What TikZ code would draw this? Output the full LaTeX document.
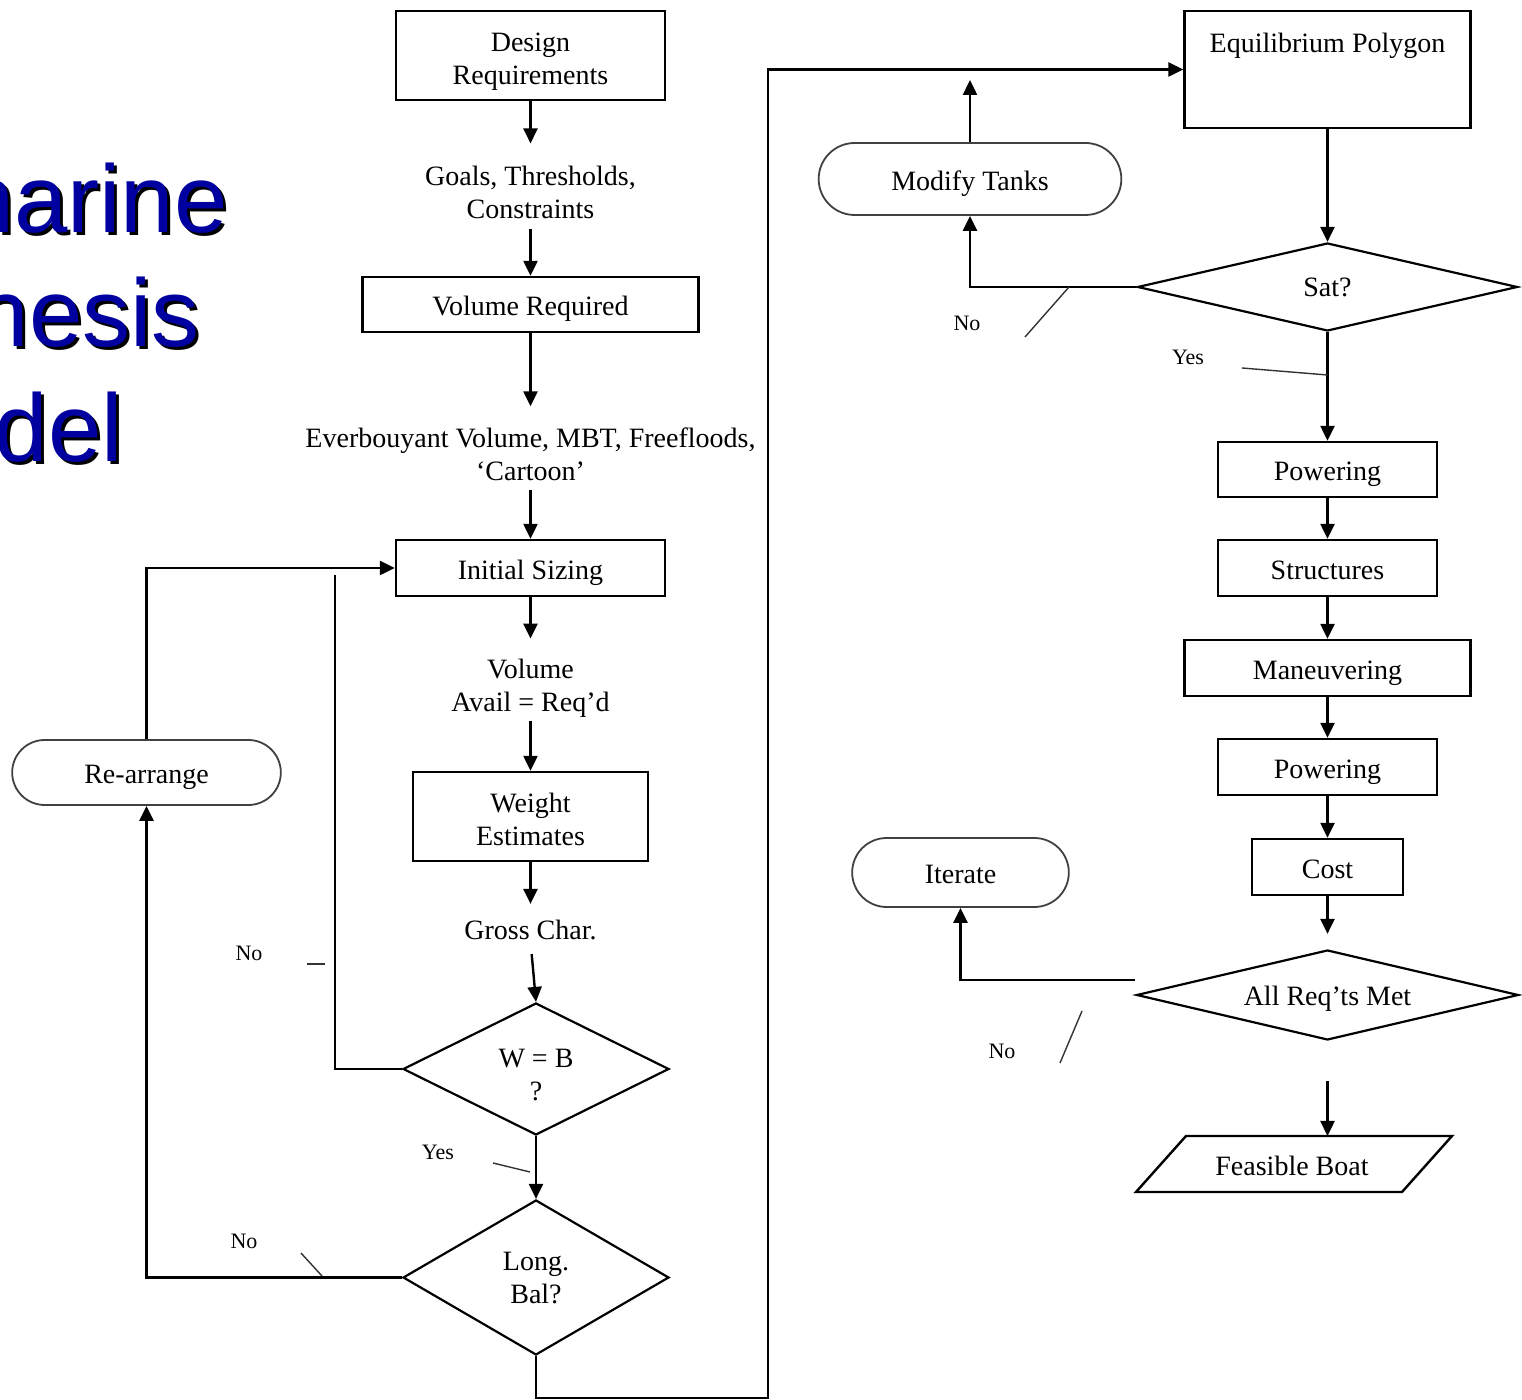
\documentclass[tikz,border=0pt]{standalone}
\usepackage{fontspec}
\setmainfont{Liberation Serif}
\newfontfamily\titlefont{Liberation Sans}
\usetikzlibrary{shapes.geometric,shapes.misc,arrows.meta}

\definecolor{titleblue}{RGB}{0,0,160}
\newcommand{\flowfont}{\fontsize{14}{16.5}\selectfont}
\newcommand{\tagfont}{\fontsize{11}{13}\selectfont}

\tikzset{every picture/.style={line width=1.2pt}}
\tikzset{
  procbox/.style={draw, rectangle, align=center, inner sep=2pt, text height=11.5pt, text depth=0pt, font=\flowfont},
  twoline/.style={text height=30pt, text depth=0.5pt},
  decide/.style={draw, diamond, align=center, inner sep=1pt, line width=1.1pt, font=\flowfont},
  termbox/.style={draw=black!75, rounded rectangle, line width=0.9pt, align=center, text height=11.5pt, text depth=0pt, font=\flowfont},
  flowtext/.style={align=center, inner sep=0pt, font=\flowfont},
  tagtext/.style={inner sep=0pt, font=\tagfont},
  flowarrow/.style={-{Triangle[length=7.5pt,width=7pt]}},
  tickline/.style={line width=0.7pt, black!80},
  titletext/.style={inner sep=0pt, anchor=base east, font=\titlefont\fontsize{48}{58}\selectfont}
}

\begin{document}
\begin{tikzpicture}[x=0.5pt,y=0.5pt,yscale=-1,xscale=1]
\useasboundingbox (0,0) rectangle (1522,1400);
\clip (0,0) rectangle (1522,1400);

% Title, cut off at the left edge
\node [titletext, black] (subshadow) at (232,236) {Submarine};
\node [titletext, titleblue] (subword) at (229,233) {Submarine};
\node [titletext, black] (synshadow) at (204,350) {Synthesis};
\node [titletext, titleblue] (synword) at (201,347) {Synthesis};
\node [titletext, black] (modshadow) at (127,465) {Model};
\node [titletext, titleblue] (modword) at (124,462) {Model};

% Left column
\node [procbox, twoline, minimum width=134.5pt, minimum height=44.5pt] (req) at (530.5,55.5) {Design\\Requirements};
\node [flowtext] (goals) at (530.5,192) {Goals, Thresholds,\\Constraints};
\node [procbox, minimum width=168pt, minimum height=27.5pt] (volreq) at (530.5,304.5) {Volume Required};
\node [flowtext] (ever) at (530.5,454) {Everbouyant Volume, MBT, Freefloods,\\`Cartoon'};
\node [procbox, minimum width=134.5pt, minimum height=28pt] (init) at (530.5,568) {Initial Sizing};
\node [flowtext] (volav) at (530.5,688) {Volume\\Avail = Req'd};
\node [procbox, twoline, minimum width=117.5pt, minimum height=44.5pt] (weight) at (530.5,816.5) {Weight\\Estimates};
\node [flowtext] (gross) at (530.5,930) {Gross Char.};
\node [decide, aspect=2, text height=32.5pt, text depth=0.5pt, minimum width=133pt, minimum height=66pt] (wb) at (536,1069) {W = B\\?};
\node [decide, aspect=1.7, text height=26pt, text depth=0.5pt, minimum width=133pt, minimum height=77.5pt] (bal) at (536,1277.5) {Long.\\Bal?};
\node [termbox, minimum width=141pt, minimum height=32.5pt] (rearr) at (146.5,772.5) {Re-arrange};

% Right column
\node [procbox, minimum width=143pt, minimum height=58.5pt] (equil) at (1327.5,69.5) {};
\node [flowtext] (equiltxt) at (1327.5,46) {Equilibrium Polygon};
\node [decide, aspect=4.3, minimum width=190pt, minimum height=44pt] (sat) at (1327.5,287) {Sat?};
\node [termbox, minimum width=158pt, minimum height=36pt] (modify) at (970,179) {Modify Tanks};
\node [procbox, minimum width=109.5pt, minimum height=27.5pt] (powa) at (1327.5,469.5) {Powering};
\node [procbox, minimum width=109.5pt, minimum height=28pt] (struct) at (1327.5,568) {Structures};
\node [procbox, minimum width=143pt, minimum height=28pt] (maneu) at (1327.5,668) {Maneuvering};
\node [procbox, minimum width=109.5pt, minimum height=28pt] (powb) at (1327.5,767) {Powering};
\node [procbox, minimum width=75.5pt, minimum height=28pt] (cost) at (1327.5,867) {Cost};
\node [decide, aspect=4.2, text height=11pt, text depth=0pt, minimum width=191pt, minimum height=45pt] (allreq) at (1327.5,995) {All Req'ts Met};
\node [termbox, minimum width=115pt, minimum height=34.5pt] (iterate) at (960.5,872.5) {Iterate};
\draw (1136,1192) -- (1186,1136) -- (1452,1136) -- (1402,1192) -- cycle;
\node [flowtext] (boat) at (1292,1166) {Feasible Boat};

% Branch labels
\node [tagtext] (nowb) at (249,953) {No};
\node [tagtext] (nobal) at (244,1241) {No};
\node [tagtext] (yeswb) at (438,1152) {Yes};
\node [tagtext] (nosat) at (967,323) {No};
\node [tagtext] (yessat) at (1188,357) {Yes};
\node [tagtext] (noall) at (1002,1051) {No};

\coordinate (wbnoend) at (335,575);
\coordinate (loopcorner) at (768,1398);
\coordinate (tankup) at (970,80);
\coordinate (boattop) at (1327.5,1136);

% Connectors
\draw [flowarrow, shorten >=10.5pt] (req.south) -- (goals.north);
\draw [flowarrow, shorten <=4.5pt] (goals.south) -- (volreq.north);
\draw [flowarrow, shorten >=10pt] (volreq.south) -- (ever.north);
\draw [flowarrow, shorten <=4pt] (ever.south) -- (init.north);
\draw [flowarrow, shorten >=9.5pt] (init.south) -- (volav.north);
\draw [flowarrow, shorten <=1.5pt] (volav.south) -- (weight.north);
\draw [flowarrow, shorten >=7.5pt] (weight.south) -- (gross.north);
\draw [flowarrow, shorten <=6.5pt] (gross.south) -- (wb.north);
\draw [flowarrow] (wb.south) -- (bal.north);
\draw [flowarrow] (bal.west) -| (rearr.south);
\draw [flowarrow] (rearr.north) |- (init.west);
\draw (wb.west) -| (wbnoend);
\draw [flowarrow] (bal.south) |- (loopcorner) |- (equil.west);

\draw [flowarrow] (equil.south) -- (sat.north);
\draw [flowarrow] (sat.west) -| (modify.south);
\draw [flowarrow] (modify.north) -- (tankup);
\draw [flowarrow] (sat.south) -- (powa.north);
\draw [flowarrow] (powa.south) -- (struct.north);
\draw [flowarrow] (struct.south) -- (maneu.north);
\draw [flowarrow] (maneu.south) -- (powb.north);
\draw [flowarrow] (powb.south) -- (cost.north);
\draw [flowarrow, shorten >=7.5pt] (cost.south) -- (allreq.north);
\draw [flowarrow] ([yshift=-7.5pt]allreq.west) -| (iterate.south);
\draw [flowarrow, shorten <=20pt] (allreq.south) -- (boattop);

% Label ticks
\draw [tickline] (307,964) -- (325,964);
\draw [tickline] (301,1253) -- (322,1276);
\draw [tickline] (493,1163) -- (530,1172);
\draw [tickline] (1069,287) -- (1025,337);
\draw [tickline] (1242,368) -- (1327.5,375);
\draw [tickline] (1082,1011) -- (1060,1063);

\end{tikzpicture}
\end{document}
